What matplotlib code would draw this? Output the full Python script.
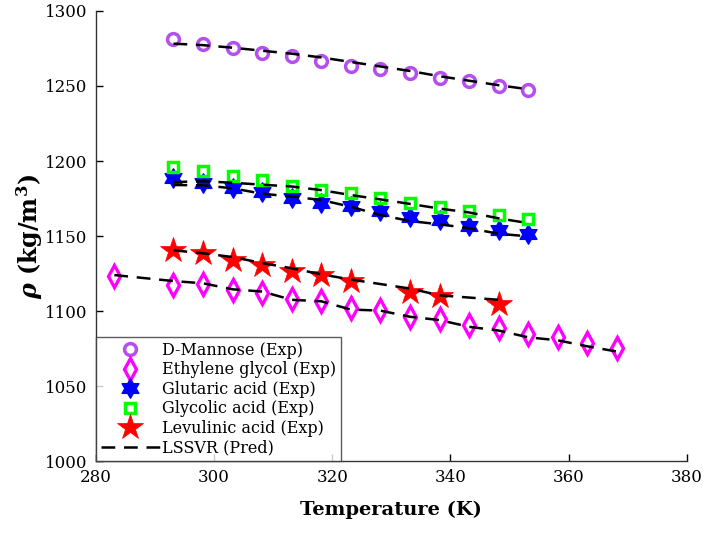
import numpy as np
import matplotlib
matplotlib.use("Agg")
import matplotlib.pyplot as plt
from matplotlib.path import Path

plt.rcParams['font.family'] = ['DejaVu Serif']
plt.rcParams['mathtext.fontset'] = 'custom'
plt.rcParams['mathtext.rm'] = 'DejaVu Serif:bold'
plt.rcParams['mathtext.it'] = 'DejaVu Serif:italic:bold'
plt.rcParams['mathtext.bf'] = 'DejaVu Serif:bold'

# ---- data ----
T_std = [293.15, 298.15, 303.15, 308.15, 313.15, 318.15, 323.15,
         328.15, 333.15, 338.15, 343.15, 348.15, 353.15]
mannose_exp = [1281, 1277.7, 1275.1, 1272.2, 1270, 1266.7, 1263.4,
               1261.2, 1258.4, 1255.3, 1253.1, 1250.2, 1247.3]
mannose_pred = [1278.2, 1277.2, 1275.5, 1273.5, 1271.5, 1269, 1266,
                1263, 1260, 1256.5, 1253.5, 1250.5, 1247.8]

T_eg = [283.15, 293.15, 298.15, 303.15, 308.15, 313.15, 318.15, 323.15,
        328.15, 333.15, 338.15, 343.15, 348.15, 353.15, 358.15, 363.15, 368.15]
eg_exp = [1123.5, 1117.5, 1118, 1114, 1112, 1108, 1106.5, 1102, 1100.5,
          1096, 1094.5, 1090.5, 1088.5, 1084.5, 1083, 1079, 1075.5]
eg_pred = [1124, 1120, 1118.5, 1114.5, 1113, 1107.5, 1106.5, 1101, 1100.3,
           1096.2, 1094, 1089.5, 1087, 1082.5, 1080.5, 1076.5, 1073]

glutaric_exp = [1188.5, 1185.5, 1181.8, 1179.4, 1175.3, 1172.3, 1170,
                1166.6, 1163, 1160.7, 1157, 1154.1, 1151.5]
glutaric_pred = [1184, 1183.8, 1181.8, 1178.2, 1176.3, 1174, 1169.5,
                 1164, 1160, 1157.8, 1155.2, 1151.5, 1149.8]

glycolic_exp = [1196, 1193.2, 1189.8, 1187.2, 1183.6, 1180.6, 1178.8,
                1175.3, 1172.3, 1169.2, 1166.8, 1164, 1161.2]
glycolic_pred = [1186, 1186.5, 1185.5, 1184.2, 1183, 1180.6, 1177.3,
                 1174.4, 1171.4, 1168.3, 1165.7, 1161.8, 1158.6]

T_lev = [293.15, 298.15, 303.15, 308.15, 313.15, 318.15, 323.15,
         333.15, 338.15, 348.15]
lev_exp = [1141, 1138.5, 1134, 1131, 1127, 1124, 1120, 1113, 1110, 1105]
lev_pred = [1140.5, 1138.5, 1136, 1132, 1128.5, 1124.5, 1121, 1115, 1110.5, 1107.5]

labels = ['D-Mannose (Exp)', 'Ethylene glycol (Exp)', 'Glutaric acid (Exp)',
          'Glycolic acid (Exp)', 'Levulinic acid (Exp)', 'LSSVR (Pred)']
xticks = [280, 300, 320, 340, 360, 380]
yticks = [1000, 1050, 1100, 1150, 1200, 1250, 1300]

# hexagram marker
ang = np.pi / 2 + np.arange(12) * np.pi / 6
rad = np.where(np.arange(12) % 2 == 0, 1.0, 1.0 / np.sqrt(3))
verts = np.column_stack([rad * np.cos(ang), rad * np.sin(ang)])
verts = np.vstack([verts, verts[:1]])
codes = [Path.MOVETO] + [Path.LINETO] * 11 + [Path.CLOSEPOLY]
hexagram = Path(verts, codes)

fig = plt.figure(figsize=(7.09, 5.47), dpi=100)
ax = fig.add_axes([0.135, 0.157, 0.834, 0.823])

ax.plot(T_std, mannose_exp, linestyle='none', marker='o', ms=8.5,
        mfc='none', mec='#B450F0', mew=2.5, label=labels[0])
ax.plot(T_eg, eg_exp, linestyle='none', marker='d', ms=11,
        mfc='none', mec='#FF00FF', mew=2.4, label=labels[1])
ax.plot(T_std, glutaric_exp, linestyle='none', marker=hexagram, ms=14,
        mfc='#0000FF', mec='#0000FF', mew=1.0, label=labels[2])
ax.plot(T_std, glycolic_exp, linestyle='none', marker='s', ms=7.5,
        mfc='none', mec='#00FF00', mew=2.5, label=labels[3])
ax.plot(T_lev, lev_exp, linestyle='none', marker='*', ms=19,
        mfc='#FF0000', mec='#FF0000', mew=0.5, label=labels[4])

dash = dict(color='black', linestyle=(0, (5.5, 3.5)), linewidth=1.8)
ax.plot(T_std, mannose_pred, label=labels[5], **dash)
ax.plot(T_eg, eg_pred, **dash)
ax.plot(T_std, glutaric_pred, **dash)
ax.plot(T_std, glycolic_pred, **dash)
ax.plot(T_lev, lev_pred, **dash)

ax.set_xlim(280, 380)
ax.set_ylim(1000, 1300)
ax.set_xticks(xticks)
ax.set_yticks(yticks)
ax.tick_params(direction='in', length=5, width=1, labelsize=12,
               top=False, right=False, pad=6)
for s in ['top', 'right']:
    ax.spines[s].set_visible(False)
for s in ['left', 'bottom']:
    ax.spines[s].set_color('#333333')
    ax.spines[s].set_linewidth(1.0)

ax.set_xlabel('Temperature (K)', fontsize=14, fontweight='bold', labelpad=10)
ax.set_ylabel(r'$\rho$ (kg/m$^{3}$)', fontsize=17, fontweight='bold', labelpad=0)

leg = ax.legend(loc='lower left', borderaxespad=0, fancybox=False,
                fontsize=11.5, handlelength=3.7, numpoints=1,
                labelspacing=0.16, handletextpad=0.15, borderpad=0.3)
leg.get_frame().set_edgecolor('#333333')
leg.get_frame().set_linewidth(1.0)

fig.savefig('out.png', dpi=100)
